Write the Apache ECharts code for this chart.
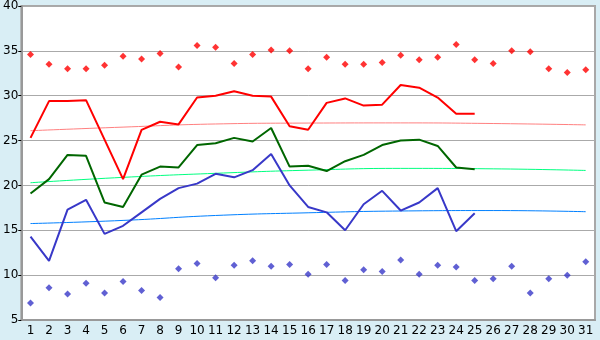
<!DOCTYPE html>
<html>
<head>
<meta charset="utf-8">
<script src="https://cdn.jsdelivr.net/npm/echarts@6/dist/echarts.min.js"></script>
<style>
  html, body { margin: 0; padding: 0; background: #d9eef5; }
  #chart { width: 600px; height: 340px; }
</style>
</head>
<body>
<div id="chart"></div>
<script>
var days = [];
for (var d = 1; d <= 31; d++) days.push(String(d));

// daily max / avg / min (days 1..25)
var maxTemp = [25.3, 29.4, 29.4, 29.5, 25.1, 20.7, 26.2, 27.1, 26.8, 29.8,
               30.0, 30.5, 30.0, 29.9, 26.6, 26.2, 29.2, 29.7, 28.9, 29.0,
               31.2, 30.9, 29.8, 28.0, 28.0];
var avgTemp = [19.1, 20.7, 23.4, 23.3, 18.1, 17.6, 21.2, 22.1, 22.0, 24.5,
               24.7, 25.3, 24.9, 26.4, 22.1, 22.2, 21.6, 22.7, 23.4, 24.5,
               25.0, 25.1, 24.4, 22.0, 21.8];
var minTemp = [14.3, 11.6, 17.3, 18.4, 14.6, 15.5, 17.0, 18.5, 19.7, 20.2,
               21.3, 20.9, 21.7, 23.5, 20.0, 17.6, 17.0, 15.0, 17.9, 19.4,
               17.2, 18.1, 19.7, 14.9, 16.9];

// record highs / lows
var recHigh = [34.6, 33.5, 33.0, 33.0, 33.4, 34.4, 34.1, 34.7, 33.2, 35.6,
               35.4, 33.6, 34.6, 35.1, 35.0, 33.0, 34.3, 33.5, 33.5, 33.7,
               34.5, 34.0, 34.3, 35.7, 34.0, 33.6, 35.0, 34.9, 33.0, 32.6, 32.9];
var recLow = [6.9, 8.6, 7.9, 9.1, 8.0, 9.3, 8.3, 7.5, 10.7, 11.3,
              9.7, 11.1, 11.6, 11.0, 11.2, 10.1, 11.2, 9.4, 10.6, 10.4,
              11.7, 10.1, 11.1, 10.9, 9.4, 9.6, 11.0, 8.0, 9.6, 10.0, 11.5];

// trend curves read at days 1, 6, 11, 16, 21, 26, 31
var trendDays = [1, 6, 11, 16, 21, 26, 31];
var trendMax = [26.1, 26.5, 26.85, 26.95, 26.97, 26.9, 26.75];
var trendAvg = [20.3, 20.9, 21.35, 21.7, 21.9, 21.85, 21.67];
var trendMin = [15.75, 16.1, 16.65, 16.95, 17.15, 17.2, 17.07];

function trend(vals) {
    var arr = [];
    for (var i = 0; i < 31; i++) arr.push(null);
    trendDays.forEach(function (d, i) { arr[d - 1] = vals[i]; });
    return arr;
}

var myChart = echarts.init(document.getElementById('chart'));

myChart.setOption({
    backgroundColor: '#d9eef5',
    animation: false,
    textStyle: { fontFamily: 'DejaVu Sans' },
    grid: {
        left: 20, right: 5, top: 5, bottom: 20,
        show: true,
        backgroundColor: '#ffffff',
        borderColor: '#a8a8a8',
        borderWidth: 2
    },
    xAxis: {
        type: 'category',
        data: days,
        boundaryGap: true,
        axisLine: { lineStyle: { color: '#999', width: 2 } },
        axisTick: { alignWithLabel: true, length: 4, lineStyle: { color: '#000' } },
        axisLabel: { color: '#000', fontSize: 12, margin: 5, interval: 0 },
        splitLine: { show: false }
    },
    yAxis: {
        type: 'value',
        min: 5, max: 40, interval: 5,
        axisLine: { show: true, lineStyle: { color: '#999', width: 2 } },
        axisTick: { show: true, length: 3, lineStyle: { color: '#000' } },
        axisLabel: { color: '#000', fontSize: 12, margin: 3 },
        splitLine: { lineStyle: { color: '#aaaaaa', width: 1 } }
    },
    series: [
        {
            name: 'trendMax', type: 'line', data: trend(trendMax),
            connectNulls: true, smooth: true, showSymbol: false,
            lineStyle: { color: '#ff8080', width: 1 }
        },
        {
            name: 'trendAvg', type: 'line', data: trend(trendAvg),
            connectNulls: true, smooth: true, showSymbol: false,
            lineStyle: { color: '#00ff80', width: 1 }
        },
        {
            name: 'trendMin', type: 'line', data: trend(trendMin),
            connectNulls: true, smooth: true, showSymbol: false,
            lineStyle: { color: '#0080ff', width: 1 }
        },
        {
            name: 'max', type: 'line', data: maxTemp, showSymbol: false,
            lineStyle: { color: '#ff0000', width: 2 }
        },
        {
            name: 'avg', type: 'line', data: avgTemp, showSymbol: false,
            lineStyle: { color: '#006600', width: 2 }
        },
        {
            name: 'min', type: 'line', data: minTemp, showSymbol: false,
            lineStyle: { color: '#3838c8', width: 2 }
        },
        {
            name: 'recHigh', type: 'scatter', data: recHigh,
            symbol: 'diamond', symbolSize: 7,
            itemStyle: { color: '#ff0000' }
        },
        {
            name: 'recLow', type: 'scatter', data: recLow,
            symbol: 'diamond', symbolSize: 7,
            itemStyle: { color: '#3838c8' }
        }
    ]
});
</script>
</body>
</html>
